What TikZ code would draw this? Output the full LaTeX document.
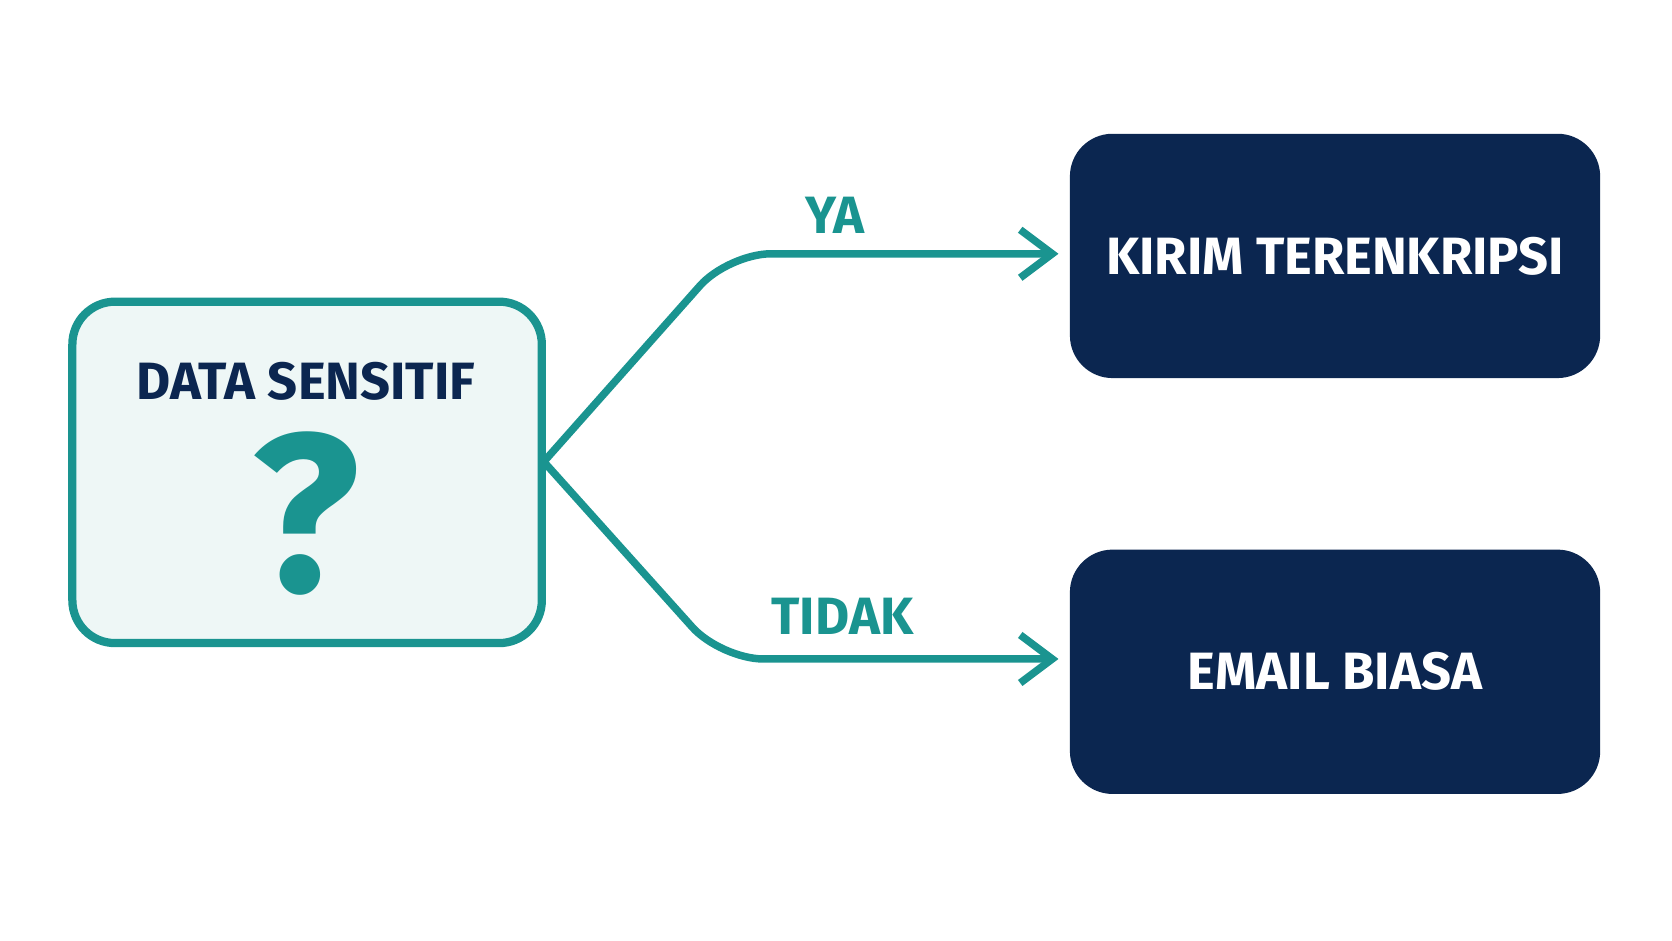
\documentclass[tikz,border=0pt]{standalone}
\usepackage{fontspec}
\setmainfont{Fira Sans}
\usetikzlibrary{positioning,arrows.meta}
\definecolor{tealc}{RGB}{26,148,144}
\definecolor{navy}{RGB}{11,38,80}
\definecolor{paleteal}{RGB}{238,247,246}
\tikzstyle{decision} = [draw=tealc, line width=2.2pt, fill=paleteal, rounded corners=0.4cm, minimum width=4.4cm, minimum height=3.2cm]
\tikzstyle{action} = [fill=navy, rounded corners=0.4cm, minimum width=4.97cm, minimum height=2.29cm, text=white, font=\fontsize{14}{16}\selectfont\bfseries]
\tikzstyle{link} = [draw=tealc, line width=2pt, rounded corners=0.4cm, shorten >=0.1cm, -{Straight Barb[length=3mm,width=4.5mm,line width=2pt]}]
\tikzstyle{answer} = [text=tealc, font=\fontsize{14}{16}\selectfont\bfseries]

\begin{document}
\begin{tikzpicture}[x=0.01cm, y=-0.01cm]
        \useasboundingbox (0,0) rectangle (1568,882);
        \node[decision] (sensitif) at (288,443) {};
        \node[text=navy, font=\fontsize{14}{16}\selectfont\bfseries] (judul) at (287,358) {DATA SENSITIF};
        \node[text=tealc, font=\fontsize{60}{60}\selectfont\bfseries] (tanya) at (287,482) {?};

        \node[action] (enkripsi) at (1252,240) {KIRIM TERENKRIPSI};
        \node[action] (biasa) at (1252,630) {EMAIL BIASA};

        \coordinate (cabang) at (510,433);
        \draw[link] (cabang) -- (683,238) -- (enkripsi.west |- 0,238);
        \draw[link] (cabang) -- (676,618) -- (biasa.west |- 0,618);

        \node[answer] (ya) at (783,202) {YA};
        \node[answer] (tidak) at (790,578) {TIDAK};
\end{tikzpicture}
\end{document}
